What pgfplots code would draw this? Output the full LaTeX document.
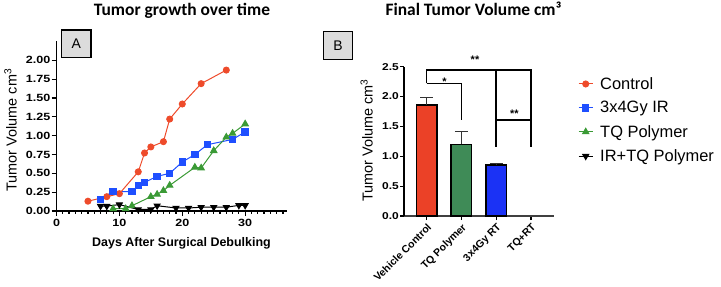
\documentclass[border=0pt]{standalone}
\usepackage{pgfplots}
\pgfplotsset{compat=1.18}
\usepackage{fontspec}
\setmainfont{Liberation Sans}
\newfontfamily\titlefont{Carlito}
\newfontfamily\tickfont[FakeStretch=1.2]{Liberation Sans}
\definecolor{cred}{HTML}{EE4B2B}
\definecolor{cblue}{HTML}{1F4FFF}
\definecolor{cgreen}{HTML}{3A9A35}
\definecolor{bred}{HTML}{EB4127}
\definecolor{bgreen}{HTML}{3F8B57}
\definecolor{bblue}{HTML}{1B32F5}
\definecolor{boxgray}{HTML}{DCDCDC}
\begin{document}
\begin{tikzpicture}[x=1bp,y=1bp]
\path[use as bounding box] (0,0) rectangle (721,286);

\begin{axis}[
  at={(56.5bp,75bp)}, anchor=south west,
  scale only axis, width=230.8bp, height=170.3bp,
  xmin=0, xmax=36.7, ymin=0, ymax=2.26,
  axis x line=bottom, axis y line=left,
  axis line style={-, line width=1.5bp},
  xtick={0,10,20,30}, minor xtick={1,...,36},
  xticklabels={0,10,20,30},
  ytick={0,0.25,0.5,0.75,1,1.25,1.5,1.75,2},
  yticklabels={0.00,0.25,0.50,0.75,1.00,1.25,1.50,1.75,2.00},
  tick align=outside,
  major tick length=5bp, minor tick length=2.7bp,
  tick style={black, line width=1.2bp},
  tick label style={font=\tickfont\bfseries\fontsize{10.5}{12}\selectfont},
  yticklabel style={inner sep=1bp},
  clip=false,
  legend style={draw=none, fill=none, at={(2.2596,0.534)}, anchor=west,
    font=\fontsize{16.5}{18}\selectfont, inner sep=0pt, row sep=10.8bp,
    column sep=7bp, nodes={inner sep=0pt}},
  legend cell align=left,
  legend image code/.code={\draw[mark repeat=2,mark phase=2,#1] plot coordinates {(0bp,0bp) (7bp,0bp) (14bp,0bp)};},
]
\addplot[cred, line width=1bp, mark=*, mark size=3bp] coordinates {
 (5,0.13) (8,0.19) (10,0.23) (13,0.52) (14,0.77) (15,0.85) (17,0.92) (18,1.22) (20,1.42) (23,1.69) (27,1.87)};
\addlegendentry{Control}
\addplot[cblue, line width=1bp, mark=square*, mark size=3.2bp] coordinates {
 (7,0.155) (9,0.26) (12,0.255) (13,0.34) (14,0.38) (16,0.46) (18,0.50) (20,0.65) (22,0.75) (24,0.88) (28,0.95) (30,1.05)};
\addlegendentry{3x4Gy IR}
\addplot[cgreen, line width=1bp, mark=triangle*, mark size=3.6bp] coordinates {
 (9,0.03) (11,0.03) (12,0.07) (15,0.19) (16,0.22) (17,0.27) (18,0.34) (22,0.58) (23,0.57) (25,0.80) (27,0.98) (28,1.03) (30,1.155)};
\addlegendentry{TQ Polymer}
\addplot[black, line width=1bp, mark=triangle*, mark size=3.4bp, mark options={rotate=180}] coordinates {
 (7,0.065) (8,0.065) (10,0.085) (13,0.02) (15,0.02) (16,0.07) (19,0.04) (21,0.04) (23,0.05) (25,0.05) (27,0.05) (29,0.075) (30,0.075)};
\addlegendentry{IR+TQ Polymer}
\end{axis}

\begin{axis}[
  at={(404bp,70bp)}, anchor=south west,
  scale only axis, width=150bp, height=149.3bp,
  xmin=-0.65, xmax=3.66, ymin=0, ymax=2.5,
  axis x line=bottom, axis y line=left,
  axis line style={-},
  y axis line style={line width=1.5bp},
  x axis line style={line width=1.2bp, black!75},
  xtick={0,1,2,3},
  xticklabels={Vehicle Control, TQ Polymer, 3x4Gy RT, TQ+RT},
  ytick={0,0.5,1,1.5,2,2.5},
  yticklabels={0.0,0.5,1.0,1.5,2.0,2.5},
  tick align=outside, major tick length=4bp,
  tick style={black, line width=1.2bp},
  yticklabel style={inner sep=1bp, font=\tickfont\bfseries\fontsize{10}{12}\selectfont},
  xticklabel style={rotate=45, anchor=north east, inner sep=0pt, font=\bfseries\fontsize{10.5}{12}\selectfont},
  xticklabel shift=2.5bp,
  clip=false,
]
\addplot[ybar, bar shift=0pt, bar width=0.586, fill=bred, draw=black, line width=1.5bp,
  error bars/.cd, y dir=plus, y explicit,
  error bar style={line width=1bp, black!80},
  error mark options={rotate=90, mark size=6.5bp, line width=1bp, black!80}]
  coordinates {(0,1.86) +- (0,0.12)};
\addplot[ybar, bar shift=0pt, bar width=0.586, fill=bgreen, draw=black, line width=1.5bp,
  error bars/.cd, y dir=plus, y explicit,
  error bar style={line width=1bp, black!80},
  error mark options={rotate=90, mark size=6.5bp, line width=1bp, black!80}]
  coordinates {(1,1.20) +- (0,0.22)};
\addplot[ybar, bar shift=0pt, bar width=0.586, fill=bblue, draw=black, line width=1.5bp,
  error bars/.cd, y dir=plus, y explicit,
  error bar style={line width=1bp, black!80},
  error mark options={rotate=90, mark size=6.5bp, line width=1bp, black!80}]
  coordinates {(2,0.85) +- (0,0.03)};
\addplot[ybar, bar shift=0pt, bar width=0.586, draw=none, fill=none] coordinates {(3,0)};
% significance brackets
\addplot[black, line width=1.5bp, mark=none] coordinates {(0,2.22) (0,2.445) (3,2.445) (3,1.16)};
\addplot[black, line width=1.5bp, mark=none] coordinates {(0,2.22) (1,2.22) (1,1.60)};
\addplot[black, line width=1.5bp, mark=none] coordinates {(2,2.445) (2,1.16)};
\addplot[black, line width=1.5bp, mark=none] coordinates {(2,1.61) (3,1.61)};
\node[font=\bfseries\fontsize{11}{12}\selectfont, inner sep=0pt, yshift=-2.4bp] at (axis cs:0.51,2.29) {*};
\node[font=\bfseries\fontsize{11}{12}\selectfont, inner sep=0pt, yshift=-2.4bp] at (axis cs:1.39,2.66) {**};
\node[font=\bfseries\fontsize{11}{12}\selectfont, inner sep=0pt, yshift=-2.4bp] at (axis cs:2.52,1.75) {**};
\end{axis}

% titles
\node[anchor=base, font=\titlefont\bfseries\fontsize{17.5}{20}\selectfont, inner sep=0pt] at (182,270.3) {Tumor growth over time};
\node[anchor=base, font=\titlefont\bfseries\fontsize{17.5}{20}\selectfont, inner sep=0pt] at (473.5,270.3) {Final Tumor Volume cm³};
% axis labels
\node[anchor=base, font=\bfseries\fontsize{12.5}{14}\selectfont, inner sep=0pt] at (181.5,39.3) {Days After Surgical Debulking};
\node[anchor=base, rotate=90, font=\fontsize{14.5}{16}\selectfont, inner sep=0pt] at (16.7,156) {Tumor Volume cm\textsuperscript{3}};
\node[anchor=base, rotate=90, font=\fontsize{14.5}{16}\selectfont, inner sep=0pt] at (372.7,145.5) {Tumor Volume cm\textsuperscript{3}};
% panel boxes
\node[draw=black, line width=1.5bp, fill=boxgray, minimum width=29.3bp, minimum height=27.3bp, inner sep=0pt, font=\fontsize{14}{16}\selectfont] at (76.3,242.4) {A};
\node[draw=black, line width=1.5bp, fill=boxgray, minimum width=29.4bp, minimum height=27.6bp, inner sep=0pt, font=\fontsize{14}{16}\selectfont] at (338,240.5) {B};
\end{tikzpicture}
\end{document}
